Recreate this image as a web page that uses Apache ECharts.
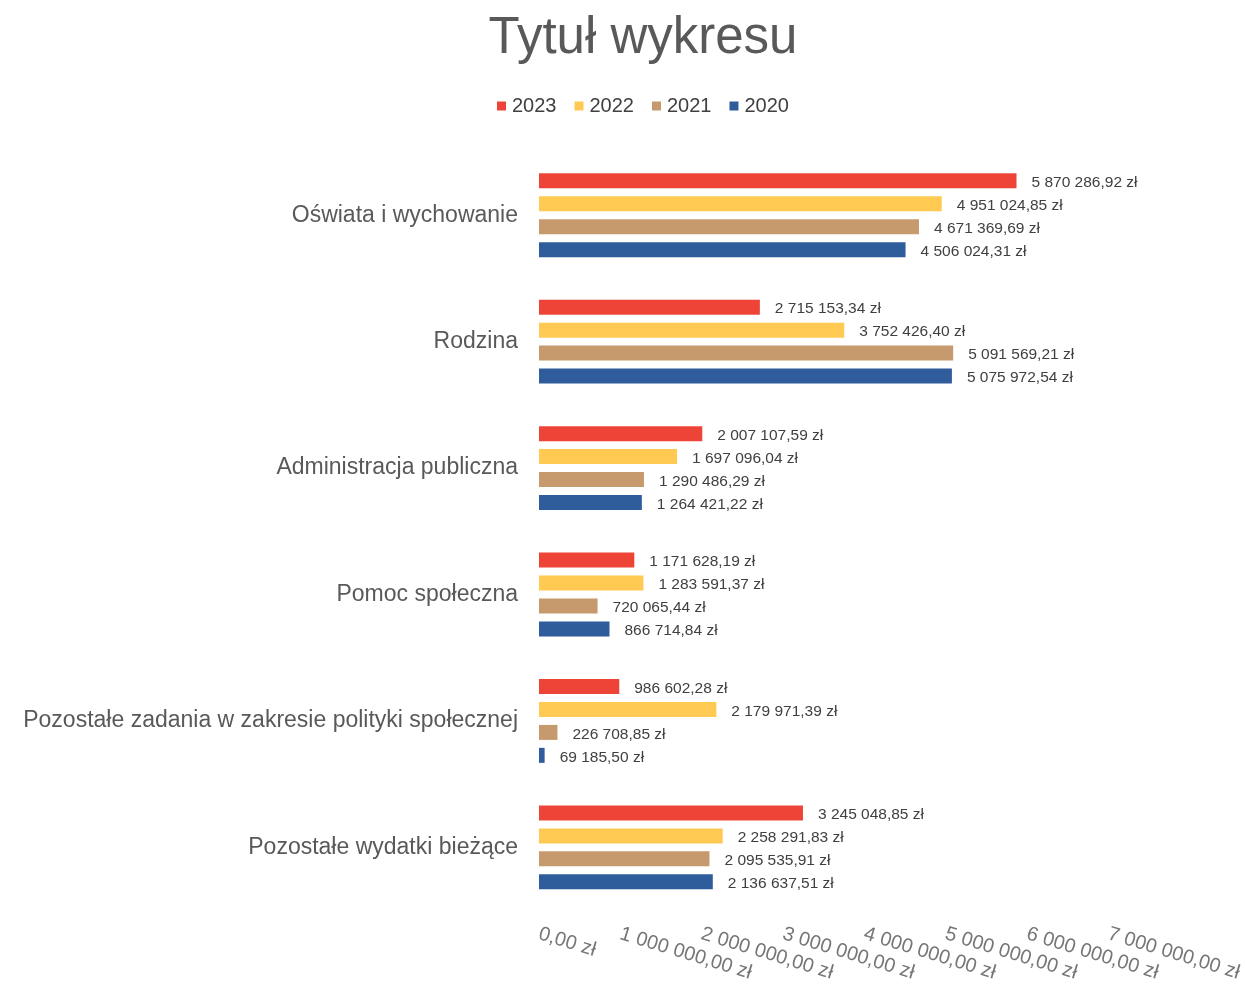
<!DOCTYPE html>
<html>
<head>
<meta charset="utf-8">
<script src="https://cdn.jsdelivr.net/npm/echarts@6/dist/echarts.min.js"></script>
<style>
html,body{margin:0;padding:0;background:#fff;}
#chart{width:1245px;height:984px;}
</style>
</head>
<body>
<div id="chart"></div>
<script>
const titleText = 'Tytuł wykresu';
const categories = [
  'Oświata i wychowanie',
  'Rodzina',
  'Administracja publiczna',
  'Pomoc społeczna',
  'Pozostałe zadania w zakresie polityki społecznej',
  'Pozostałe wydatki bieżące'
];
const seriesNames = ['2023', '2022', '2021', '2020'];
const values2023 = [5870286.92, 2715153.34, 2007107.59, 1171628.19, 986602.28, 3245048.85];
const values2022 = [4951024.85, 3752426.40, 1697096.04, 1283591.37, 2179971.39, 2258291.83];
const values2021 = [4671369.69, 5091569.21, 1290486.29, 720065.44, 226708.85, 2095535.91];
const values2020 = [4506024.31, 5075972.54, 1264421.22, 866714.84, 69185.50, 2136637.51];
const seriesColors = ['#EE4437', '#FFC952', '#C69A6D', '#2F5D9C'];
const axisMin = 0, axisMax = 7000000, axisInterval = 1000000;

function fmtZl(v) {
  const fixed = Number(v).toFixed(2);
  const parts = fixed.split('.');
  const intPart = parts[0].replace(/\B(?=(\d{3})+(?!\d))/g, ' ');
  return intPart + ',' + parts[1] + ' zł';
}

const allValues = [values2023, values2022, values2021, values2020];
const chart = echarts.init(document.getElementById('chart'), null, {renderer: 'canvas'});
const option = {
  backgroundColor: '#ffffff',
  animation: false,
  title: {
    text: titleText,
    left: 638,
    textAlign: 'center',
    top: 8,
    textStyle: {fontFamily: 'Liberation Sans', fontSize: 51, fontWeight: 'normal', color: '#595959'}
  },
  legend: {
    data: seriesNames,
    top: 91,
    left: 492,
    itemWidth: 9,
    itemHeight: 9,
    itemGap: 18,
    icon: 'rect',
    textStyle: {fontFamily: 'Liberation Sans', fontSize: 20, color: '#404040', padding: [0, 0, 0, 1]}
  },
  grid: {left: 539, right: 135, top: 152, bottom: 72, containLabel: false},
  xAxis: {
    type: 'value',
    min: axisMin,
    max: axisMax,
    interval: axisInterval,
    axisLine: {show: false},
    axisTick: {show: false},
    splitLine: {show: false},
    axisLabel: {
      rotate: -17,
      margin: 23,
      fontFamily: 'Liberation Sans',
      fontSize: 20,
      color: '#767676',
      formatter: v => fmtZl(v)
    }
  },
  yAxis: {
    type: 'category',
    data: categories,
    inverse: true,
    axisLine: {show: false},
    axisTick: {show: false},
    splitLine: {show: false},
    axisLabel: {fontFamily: 'Liberation Sans', fontSize: 23, color: '#595959', margin: 21}
  },
  series: seriesNames.map((name, i) => ({
    name: name,
    type: 'bar',
    data: allValues[i],
    barWidth: 15,
    barGap: '53%',
    itemStyle: {color: seriesColors[i]},
    label: {
      show: true,
      position: 'right',
      distance: 15,
      fontFamily: 'Liberation Sans',
      fontSize: 15.5,
      color: '#404040',
      offset: [0, 2],
      formatter: p => fmtZl(p.value)
    }
  }))
};
chart.setOption(option);
</script>
</body>
</html>
